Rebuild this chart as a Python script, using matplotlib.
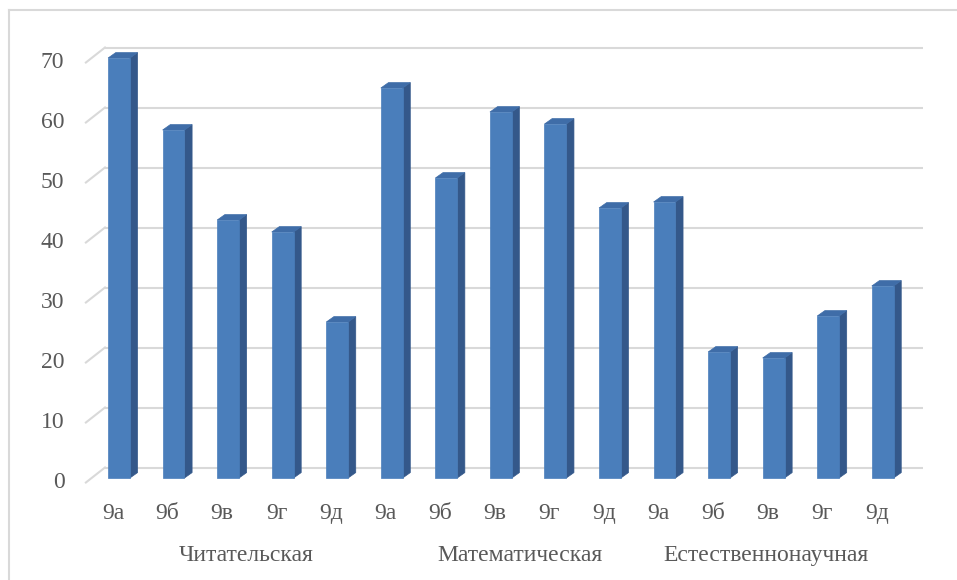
import matplotlib
matplotlib.use("Agg")
import matplotlib.pyplot as plt
from matplotlib.patches import Polygon
from matplotlib.lines import Line2D

# ---- data ----
groups = ["Читательская", "Математическая", "Естественнонаучная"]
classes = ["9а", "9б", "9в", "9г", "9д"]
values_read = [70, 58, 43, 41, 26]
values_math = [65, 50, 61, 59, 45]
values_sci = [46, 21, 20, 27, 32]
y_ticks = [0, 10, 20, 30, 40, 50, 60, 70]

all_values = values_read + values_math + values_sci
tick_labels = classes * len(groups)

# ---- style ----
W, H = 957, 580
FRONT = "#4A7EBB"
SIDE = "#34588A"
TOP = "#3F6DA8"
GRID = "#D9D9D9"
TXT = "#595959"
FONT = ["Liberation Serif", "DejaVu Serif"]
FS = 17

bar_half = 0.2      # half width of bar front face (category units)
ddx, ddy = 0.14, 0.9   # bar depth offset (x units, value units)
wall_dx, wall_dy = 0.35, 2.5  # wall depth offset

fig = plt.figure(figsize=(W / 100, H / 100), dpi=100)
ax = fig.add_axes([0, 0, 1, 1])
ax.set_xlim(-2.1815, 15.362)
ax.set_ylim(-17.0, 79.667)
ax.axis("off")

# frame
fig.add_artist(Line2D([9 / W, 9 / W], [0, 1 - 10 / H], color=GRID, lw=1.5, transform=fig.transFigure))
fig.add_artist(Line2D([9 / W, 1], [1 - 10 / H, 1 - 10 / H], color=GRID, lw=1.5, transform=fig.transFigure))

# gridlines on back wall + floor/wall diagonal
n = len(all_values)
gx0 = -0.257
gx1 = n - 1 + 0.74
for t in y_ticks:
    yb = t + 1.75
    ax.plot([gx0, gx1], [yb, yb], color=GRID, lw=1.5, zorder=1, solid_capstyle="butt")
    ax.plot([gx0 - wall_dx, gx0], [yb - wall_dy, yb], color=GRID, lw=1.5, zorder=1)
    ax.text(-1.0, t - 0.7, str(t), ha="right", va="center", fontsize=FS,
            color=TXT, family=FONT)

# bars
for i, v in enumerate(all_values):
    x0, x1 = i - bar_half, i + bar_half
    side = Polygon([(x1, 0), (x1 + ddx, ddy), (x1 + ddx, v + ddy), (x1, v)],
                   closed=True, facecolor=SIDE, edgecolor=SIDE, lw=0.5, zorder=3)
    top = Polygon([(x0, v), (x1, v), (x1 + ddx, v + ddy), (x0 + ddx, v + ddy)],
                  closed=True, facecolor=TOP, edgecolor=TOP, lw=0.5, zorder=3)
    front = Polygon([(x0, 0), (x1, 0), (x1, v), (x0, v)],
                    closed=True, facecolor=FRONT, edgecolor=FRONT, lw=0.5, zorder=4)
    for p in (side, top, front):
        ax.add_patch(p)

# category tick labels
for i, lab in enumerate(tick_labels):
    ax.text(i - 0.11, -5.9, lab, ha="center", va="center", fontsize=FS,
            color=TXT, family=FONT)

# group labels
group_x = [2.33, 7.35, 11.86]
for gx, g in zip(group_x, groups):
    ax.text(gx, -12.9, g, ha="center", va="center", fontsize=FS,
            color=TXT, family=FONT)

fig.savefig("out.png", dpi=100)
